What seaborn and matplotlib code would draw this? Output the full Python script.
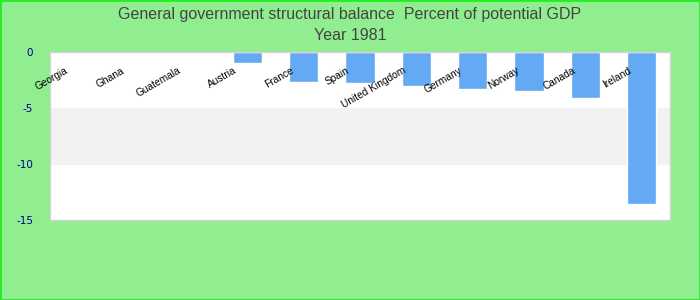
import matplotlib
matplotlib.use("Agg")
import matplotlib.pyplot as plt
import seaborn as sns
import pandas as pd

countries = ["Georgia", "Ghana", "Guatemala", "Austria", "France", "Spain",
             "United Kingdom", "Germany", "Norway", "Canada", "Ireland"]
values = [0.0, 0.0, 0.0, -0.95, -2.65, -2.75, -3.0, -3.3, -3.45, -4.15, -13.55]
yticks = [0, -5, -10, -15]

df = pd.DataFrame({"country": countries, "value": values})

sns.set_theme(style="white")
plt.rcParams['font.family'] = ['DejaVu Sans']

fig = plt.figure(figsize=(7, 3), dpi=100, facecolor="#90EE90")
ax = fig.add_axes([50/700, 1-220/300, 620/700, 168/300])
ax.set_facecolor("white")

ax.axhspan(-10, -5, color="#F2F2F2", zorder=0)

sns.barplot(data=df, x="country", y="value", color="#63A9F4", width=0.52,
            saturation=1, ax=ax, zorder=2)

ax.set_ylim(-15, 0)
ax.set_xlim(-0.5, len(countries) - 0.5)
ax.set_yticks(yticks)
ax.set_yticklabels([str(v) for v in yticks], color="#00008B", fontsize=7.5)
ax.tick_params(axis="y", length=0, pad=12)
ax.set_xticks([])
ax.set_xlabel("")
ax.set_ylabel("")
for s in ax.spines.values():
    s.set_color("#D3D3D3")
    s.set_linewidth(1)

for i, c in enumerate(countries):
    ax.text(i - 0.24, -1.2, c, rotation=30, ha="right", va="top",
            rotation_mode="anchor", fontsize=7.3, color="black", zorder=3,
            family="Liberation Sans")

fig.text(0.5, 1-14/300, "General government structural balance  Percent of potential GDP",
         ha="center", va="center", fontsize=11.5, color="#444444", family="Liberation Sans")
fig.text(0.5, 1-36/300, "Year 1981", ha="center", va="center", fontsize=11.5,
         color="#444444", family="Liberation Sans")

border = plt.Rectangle((0, 0), 1, 1, transform=fig.transFigure, fill=False,
                       edgecolor="#22EE22", linewidth=2)
fig.patches.append(border)

fig.savefig("out.png", dpi=100, facecolor=fig.get_facecolor())
